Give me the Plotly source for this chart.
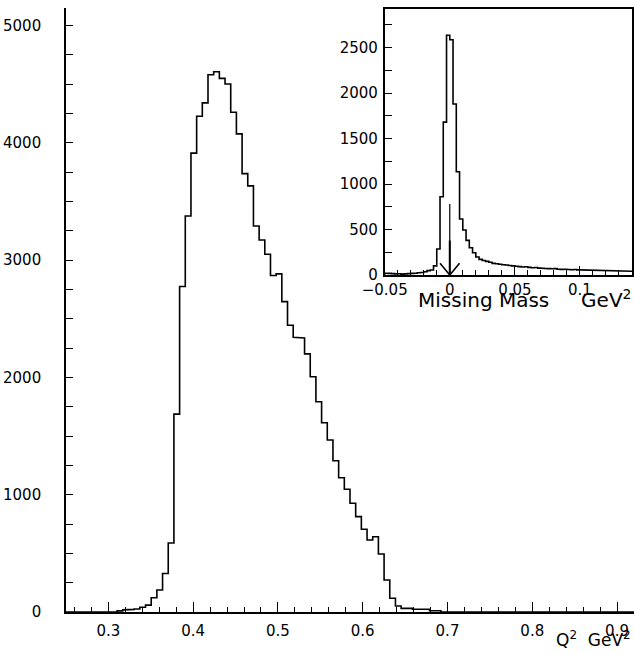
import numpy as np
import plotly.graph_objects as go

# ---------------- data ----------------
# Main histogram: Q^2 (GeV^2), 100 bins from 0.25 to 0.92
q2_lo = 0.25
q2_width = 0.0067
q2_counts = [
    0, 0, 0, 0, 0, 0, 0, 0, 0,
    10, 18, 22, 25, 40, 59, 122, 187, 328, 588,
    1687, 2776, 3376, 3913, 4227, 4341, 4581, 4606, 4550, 4502,
    4261, 4077, 3738, 3633, 3291, 3172, 3050, 2869, 2883, 2646,
    2445, 2343, 2337, 2201, 2006, 1793, 1614, 1466, 1290, 1145,
    1046, 927, 813, 705, 614, 642, 494, 273, 117, 51,
    31, 31, 23, 23, 23, 11, 11,
    0, 0, 0, 0, 0, 0, 0, 0, 0, 0, 0, 0, 0, 0, 0, 0, 0,
    0, 0, 0, 0, 0, 0, 0, 0, 0, 0, 0, 0, 0, 0, 0, 0, 0,
]

# Inset histogram: missing mass (GeV^2), bins of 0.0025 from -0.05
mm_lo = -0.05
mm_width = 0.0025
mm_counts = [
    20, 18, 15, 12, 14, 10, 12, 15, 18, 20, 24, 28, 35, 48,
    55, 100, 285, 860, 1680, 2635, 2585, 1880, 1135, 615, 495, 380, 300, 245, 198, 172,
    160, 150, 140, 128, 124, 118, 112, 110, 105, 100,
    96, 92, 88, 90, 84, 80, 82, 76, 74, 72,
    70, 68, 70, 64, 62, 64, 60, 58, 60, 56,
    55, 58, 52, 50, 52, 48, 50, 46, 48, 45,
    46, 44, 42, 44, 40, 42,
]

# Arrow marking the missing-mass cut position
arrow_x = 0.0
arrow_top = 780
arrow_thick_top = 380
arrow_head_dx = 0.0075
arrow_head_dy = 130

main_xtick_vals = [0.3, 0.4, 0.5, 0.6, 0.7, 0.8, 0.9]
main_ytick_vals = [0, 1000, 2000, 3000, 4000, 5000]
inset_xtick_vals = [-0.05, 0, 0.05, 0.1]
inset_xtick_text = ["\u22120.05", "0", "0.05", "0.1"]
inset_ytick_vals = [0, 500, 1000, 1500, 2000, 2500]


def step_xy(lo, width, counts, close_right=True):
    edges = lo + width * np.arange(len(counts) + 1)
    xs, ys = [edges[0]], [0]
    for i, c in enumerate(counts):
        xs += [edges[i], edges[i + 1]]
        ys += [c, c]
    if close_right:
        xs.append(edges[-1])
        ys.append(0)
    return xs, ys


W, H = 634, 654
FONT = "DejaVu Sans"
NB = "\u00a0"


def px_x(p):
    return p / W


def px_y(p):
    return (H - p) / H


fig = go.Figure()

qx, qy = step_xy(q2_lo, q2_width, q2_counts)
fig.add_trace(go.Scatter(x=qx, y=qy, mode="lines",
                         line=dict(color="black", width=1.6),
                         xaxis="x", yaxis="y", showlegend=False, hoverinfo="skip"))

mx, my = step_xy(mm_lo, mm_width, mm_counts, close_right=False)
fig.add_trace(go.Scatter(x=mx, y=my, mode="lines",
                         line=dict(color="black", width=1.6),
                         xaxis="x2", yaxis="y2", showlegend=False, hoverinfo="skip"))

# arrow
fig.add_shape(type="line", xref="x2", yref="y2", x0=arrow_x, x1=arrow_x,
              y0=0, y1=arrow_top, line=dict(color="black", width=1.2))
fig.add_shape(type="line", xref="x2", yref="y2", x0=arrow_x, x1=arrow_x,
              y0=0, y1=arrow_thick_top, line=dict(color="black", width=2))
fig.add_shape(type="line", xref="x2", yref="y2", x0=arrow_x - arrow_head_dx, x1=arrow_x,
              y0=arrow_head_dy, y1=0, line=dict(color="black", width=1.6))
fig.add_shape(type="line", xref="x2", yref="y2", x0=arrow_x + arrow_head_dx, x1=arrow_x,
              y0=arrow_head_dy, y1=0, line=dict(color="black", width=1.6))

tickfont = dict(family=FONT, size=15, color="black")

fig.update_layout(
    width=W, height=H,
    margin=dict(l=0, r=0, t=0, b=0, autoexpand=False),
    paper_bgcolor="white", plot_bgcolor="rgba(0,0,0,0)",
    font=dict(family=FONT, color="black"),
    xaxis=dict(
        domain=[px_x(66), px_x(634)], range=[0.25, 0.92],
        tickmode="array", tickvals=main_xtick_vals,
        ticktext=[str(v) for v in main_xtick_vals],
        ticks="inside", ticklen=10, tickwidth=1.4, tickcolor="black",
        minor=dict(dtick=0.02, tick0=0.0, ticks="inside", ticklen=5,
                   tickwidth=1.4, tickcolor="black", showgrid=False),
        showline=True, linecolor="black", linewidth=1.6,
        showgrid=False, zeroline=False, tickfont=tickfont,
        ticklabelstandoff=4, anchor="y", automargin=False,
    ),
    yaxis=dict(
        domain=[px_y(612), px_y(8)], range=[0, 5150],
        tickmode="array", tickvals=main_ytick_vals,
        ticks="inside", ticklen=7, tickwidth=1.4, tickcolor="black",
        minor=dict(dtick=250, tick0=0, ticks="inside", ticklen=7,
                   tickwidth=1.4, tickcolor="black", showgrid=False),
        showline=True, linecolor="black", linewidth=1.6,
        showgrid=False, zeroline=False, tickfont=tickfont,
        ticklabelstandoff=20, anchor="x", automargin=False,
    ),
    xaxis2=dict(
        domain=[px_x(384.7), px_x(632)], range=[-0.05, 0.14],
        tickmode="array", tickvals=inset_xtick_vals, ticktext=inset_xtick_text,
        ticks="inside", ticklen=9, tickwidth=1.4, tickcolor="black",
        minor=dict(dtick=0.01, tick0=0.0, ticks="inside", ticklen=5,
                   tickwidth=1.4, tickcolor="black", showgrid=False),
        showline=True, mirror=True, linecolor="black", linewidth=1.6,
        showgrid=False, zeroline=False, tickfont=tickfont,
        ticklabelstandoff=0, anchor="y2", automargin=False,
    ),
    yaxis2=dict(
        domain=[px_y(275), px_y(9.3)], range=[0, 2920],
        tickmode="array", tickvals=inset_ytick_vals,
        ticks="inside", ticklen=7, tickwidth=1.4, tickcolor="black",
        minor=dict(dtick=250, tick0=0, ticks="inside", ticklen=7,
                   tickwidth=1.4, tickcolor="black", showgrid=False),
        showline=True, mirror=True, linecolor="black", linewidth=1.6,
        showgrid=False, zeroline=False, tickfont=tickfont,
        ticklabelstandoff=2, anchor="x2", automargin=False,
    ),
)

fig.add_annotation(
    text="Missing" + NB + "Mass" + NB * 5 + "GeV<sup>2</sup>",
    xref="paper", yref="paper", x=px_x(633), y=px_y(298.5),
    xanchor="right", yanchor="middle", showarrow=False,
    font=dict(family=FONT, size=20, color="black"),
)
fig.add_annotation(
    text="Q<sup>2</sup>" + NB * 2 + "GeV<sup>2</sup>",
    xref="paper", yref="paper", x=px_x(633), y=px_y(639),
    xanchor="right", yanchor="middle", showarrow=False,
    font=dict(family=FONT, size=17, color="black"),
)

fig.write_html("out.html")
